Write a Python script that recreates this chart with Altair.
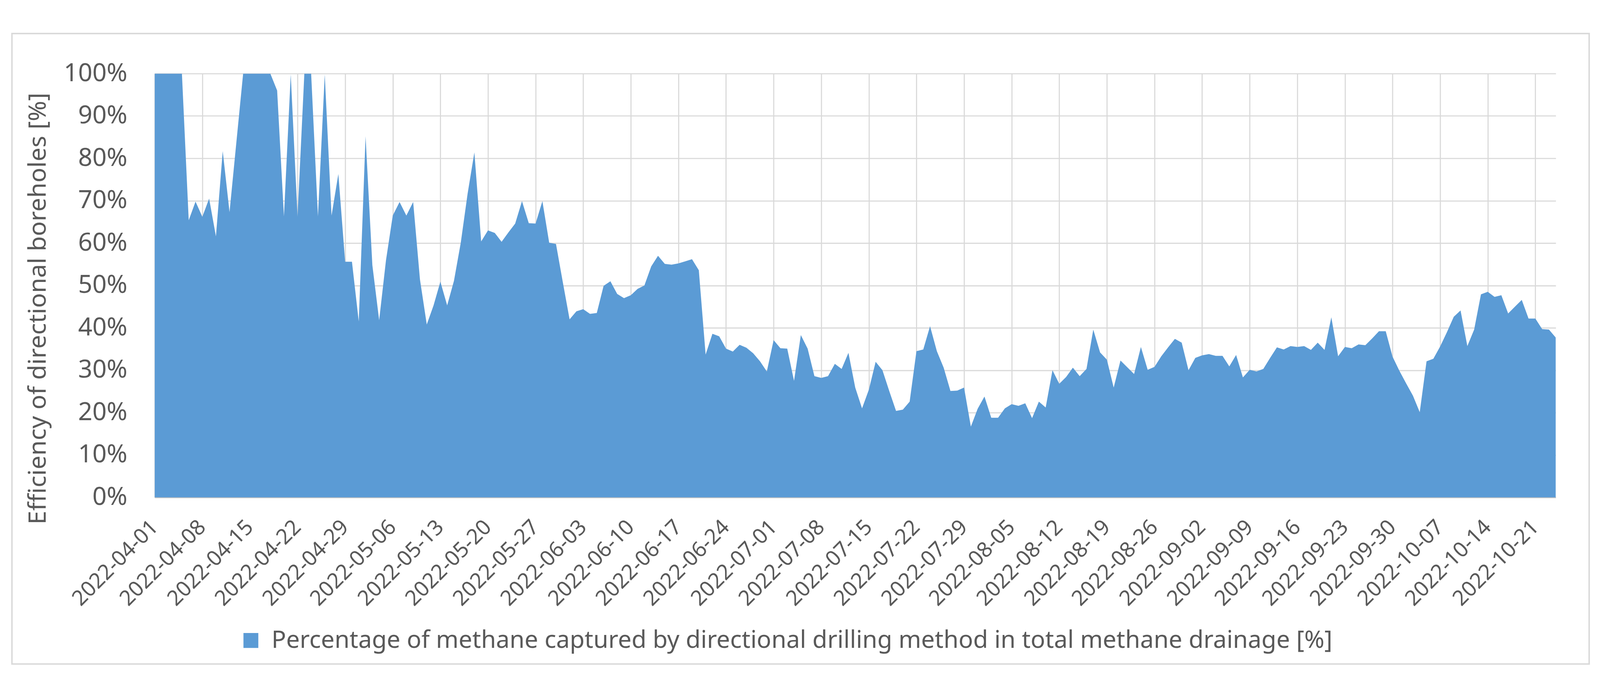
import altair as alt
import pandas as pd

# ---- data (daily share, %) ----
apr = [100, 100, 100, 100, 100, 65.4, 69.8, 66.2, 70.5, 61.6,
       81.7, 67.3, 83.7, 100, 100, 100, 100, 100, 96, 66.3,
       99.8, 66.3, 100, 100, 66.3, 99.8, 66.5, 76.3, 55.6, 55.6]
may = [41.5, 85.2, 54.8, 41.8, 55.9, 66.5, 69.7, 66.5, 69.7, 51.4,
       40.8, 45.3, 50.9, 45.3, 51.1, 60.1, 71.6, 81.4, 60.4, 63.0,
       62.4, 60.3, 62.5, 64.6, 69.9, 64.7, 64.6, 69.9, 60.1, 59.8,
       50.8]
jun = [42.0, 43.9, 44.4, 43.3, 43.5, 49.9, 51.0, 48.0, 47.0, 47.7,
       49.2, 50.0, 54.5, 57.0, 55.1, 54.9, 55.2, 55.7, 56.2, 53.6,
       33.7, 38.6, 38.0, 35.1, 34.4, 36.0, 35.3, 34.0, 32.1, 29.7]
jul = [37.1, 35.2, 35.1, 27.5, 38.3, 35.1, 28.6, 28.2, 28.6, 31.5,
       30.3, 34.1, 25.9, 21.0, 25.4, 32.0, 30.0, 25.1, 20.4, 20.7,
       22.6, 34.5, 34.9, 40.4, 34.5, 30.6, 25.1, 25.2, 25.9, 16.7,
       20.9]
aug = [23.8, 18.8, 18.8, 21.0, 22.0, 21.6, 22.2, 18.7, 22.6, 21.2,
       30.0, 26.8, 28.4, 30.6, 28.6, 30.3, 39.6, 34.2, 32.5, 25.9,
       32.3, 30.7, 29.1, 35.5, 30.1, 30.8, 33.3, 35.4, 37.4, 36.5,
       30.0]
sep = [32.9, 33.5, 33.8, 33.4, 33.4, 30.9, 33.6, 28.3, 30.1, 29.7,
       30.3, 32.9, 35.4, 34.9, 35.7, 35.5, 35.7, 34.8, 36.5, 34.8,
       42.5, 33.3, 35.5, 35.2, 36.1, 35.9, 37.5, 39.2, 39.2, 33.2]
oct = [29.9, 26.9, 24.0, 20.1, 32.1, 32.7, 35.6, 39.0, 42.6, 44.1,
       35.7, 39.6, 47.9, 48.5, 47.3, 47.7, 43.4, 45.0, 46.6, 42.2,
       42.2, 39.7, 39.6, 37.7]

values_pct = apr + may + jun + jul + aug + sep + oct
dates = [d.strftime("%Y-%m-%d") for d in pd.date_range("2022-04-01", "2022-10-24", freq="D")]
tick_dates = dates[::7]
y_ticks = [0, 0.1, 0.2, 0.3, 0.4, 0.5, 0.6, 0.7, 0.8, 0.9, 1.0]

series_name = "Percentage of methane captured by directional drilling method in total methane drainage [%]"
y_title = "Efficiency of directional boreholes [%]"

df = pd.DataFrame({
    "date": dates,
    "value": [v / 100 for v in values_pct],
    "series": series_name,
})

FONT = "Noto Sans"
TXT = "#595959"
GRID = "#d9d9d9"
BLUE = "#5B9BD5"

W, H = 3817, 1155

area = alt.Chart(df).mark_area(color=BLUE, clip=True, opacity=1).encode(
    x=alt.X("date:O",
            scale=alt.Scale(type="point", padding=0),
            axis=alt.Axis(values=tick_dates, title=None, labelAngle=-45,
                          labelAlign="right", labelBaseline="middle",
                          labelFontSize=58, labelColor=TXT, labelFont=FONT,
                          labelPadding=72, ticks=False, grid=True,
                          gridColor=GRID, gridWidth=3,
                          domain=True, domainColor="#bfbfbf", domainWidth=3,
                          labelOverlap=False, labelLimit=0)),
    y=alt.Y("value:Q",
            scale=alt.Scale(domain=[0, 1], nice=False),
            axis=alt.Axis(values=y_ticks, format=".0%", title=y_title,
                          labelFontSize=68, labelColor=TXT, labelFont=FONT,
                          labelPadding=75, ticks=False, domain=False,
                          grid=True, gridColor=GRID, gridWidth=3,
                          titleFontSize=67, titleColor=TXT, titleFont=FONT,
                          titleFontWeight="normal", titleAngle=-90,
                          titleX=-317, titleY=640, titleAlign="center",
                          titleBaseline="middle")),
    color=alt.Color("series:N",
                    scale=alt.Scale(range=[BLUE]),
                    legend=alt.Legend(orient="none", legendX=229, legendY=1512,
                                      direction="horizontal", title=None,
                                      symbolType="square", symbolSize=1640,
                                      symbolStrokeWidth=0, symbolOpacity=1,
                                      labelFontSize=66, labelColor=TXT,
                                      labelFont=FONT, labelOffset=23,
                                      padding=0, labelLimit=0)),
)

border = alt.Chart(alt.Data(values=[{"a": 1}])).mark_rect(
    fill=None, stroke=GRID, strokeWidth=4
).encode(
    x=alt.value(-389), x2=alt.value(3908),
    y=alt.value(-109), y2=alt.value(1609),
)

chart = alt.layer(area, border).properties(
    width=W, height=H,
    autosize=alt.AutoSizeParams(type="none"),
    padding={"left": 413, "top": 135, "right": 112, "bottom": 484},
    background="white",
).configure_view(stroke=None)

chart.save("out.html", embed_options={"renderer": "svg", "actions": False})
